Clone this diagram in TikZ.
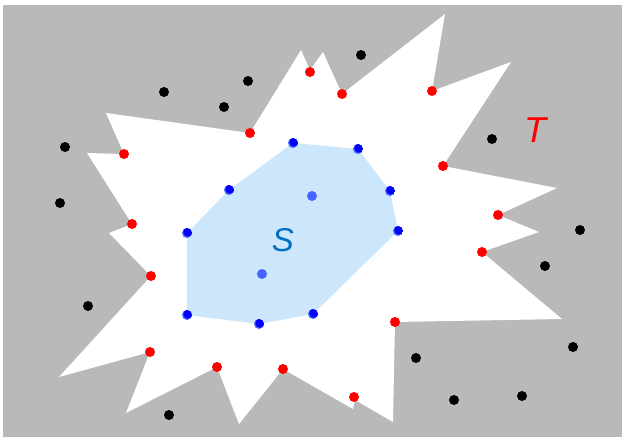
\documentclass[tikz,border=0pt]{standalone}
\usepackage{fontspec}
\setsansfont{Liberation Sans}
\definecolor{bggray}{HTML}{B9B9B9}
\definecolor{hullblue}{HTML}{CCE6FC}
\definecolor{slabel}{HTML}{0070C0}
\definecolor{dotblue}{HTML}{0000FF}
\definecolor{dotlight}{HTML}{4466FF}
\tikzset{
  dotred/.style={circle,fill=red,inner sep=0pt,minimum size=10pt},
  dotblack/.style={circle,fill=black,inner sep=0pt,minimum size=10pt},
  dotin/.style={circle,fill=dotlight,inner sep=0pt,minimum size=10pt},
  dothull/.style={circle,inner sep=0pt,minimum size=10pt,
    path picture={\fill[dotlight] (path picture bounding box.center) circle (5pt);
                  \fill[dotblue] ([shift={(0.9pt,0.9pt)}]path picture bounding box.center) circle (4.6pt);}},
}
\begin{document}
\begin{tikzpicture}[x=1pt,y=-1pt]
\useasboundingbox (0,0) rectangle (622,437);
\fill[white] (0,0) rectangle (622,437);
\fill[bggray] (3,5) rectangle (622,437);
% star-shaped region
\fill[white] (106,113) -- (250,133) -- (301,50) -- (310,70) -- (323,52) -- (342,94)
  -- (445,14) -- (432,91) -- (511,62) -- (443,166) -- (557,188) -- (498,215)
  -- (539,232) -- (482,252) -- (562,319) -- (395,322) -- (393,422) -- (355,400)
  -- (353,409) -- (283,369) -- (239,424) -- (217,367) -- (126,413) -- (150,352)
  -- (59,377) -- (151,276) -- (109,233) -- (132,224) -- (87,153) -- (124,154) -- cycle;
% hull
\fill[hullblue] (293,143) -- (358,149) -- (390,191) -- (398,231) -- (313,314)
  -- (259,324) -- (187,315) -- (187,233) -- (229,190) -- cycle;
% labels
\node[text=slabel,font=\sffamily\itshape\fontsize{33}{33}\selectfont] (S) at (283,240) {S};
\node[text=red,font=\sffamily\itshape\fontsize{36}{36}\selectfont] (T) at (535,130) {T};
% red points
\foreach \p [count=\i] in {(310,72),(342,94),(432,91),(250,133),(124,154),(443,166),(498,215),(132,224),(482,252),(151,276),(395,322),(150,352),(217,367),(283,369),(354,397)}
  \node[dotred] (r\i) at \p {};
% black points
\foreach \p [count=\i] in {(248,81),(164,92),(224,107),(65,147),(60,203),(361,55),(492,139),(88,306),(169,415),(580,230),(545,266),(573,347),(416,358),(454,400),(522,396)}
  \node[dotblack] (k\i) at \p {};
% hull points
\foreach \p [count=\i] in {(293,143),(358,149),(390,191),(398,231),(313,314),(259,324),(187,315),(187,233),(229,190)}
  \node[dothull] (h\i) at \p {};
% interior points
\node[dotin] (i1) at (312,196) {};
\node[dotin] (i2) at (262,274) {};
\end{tikzpicture}
\end{document}
